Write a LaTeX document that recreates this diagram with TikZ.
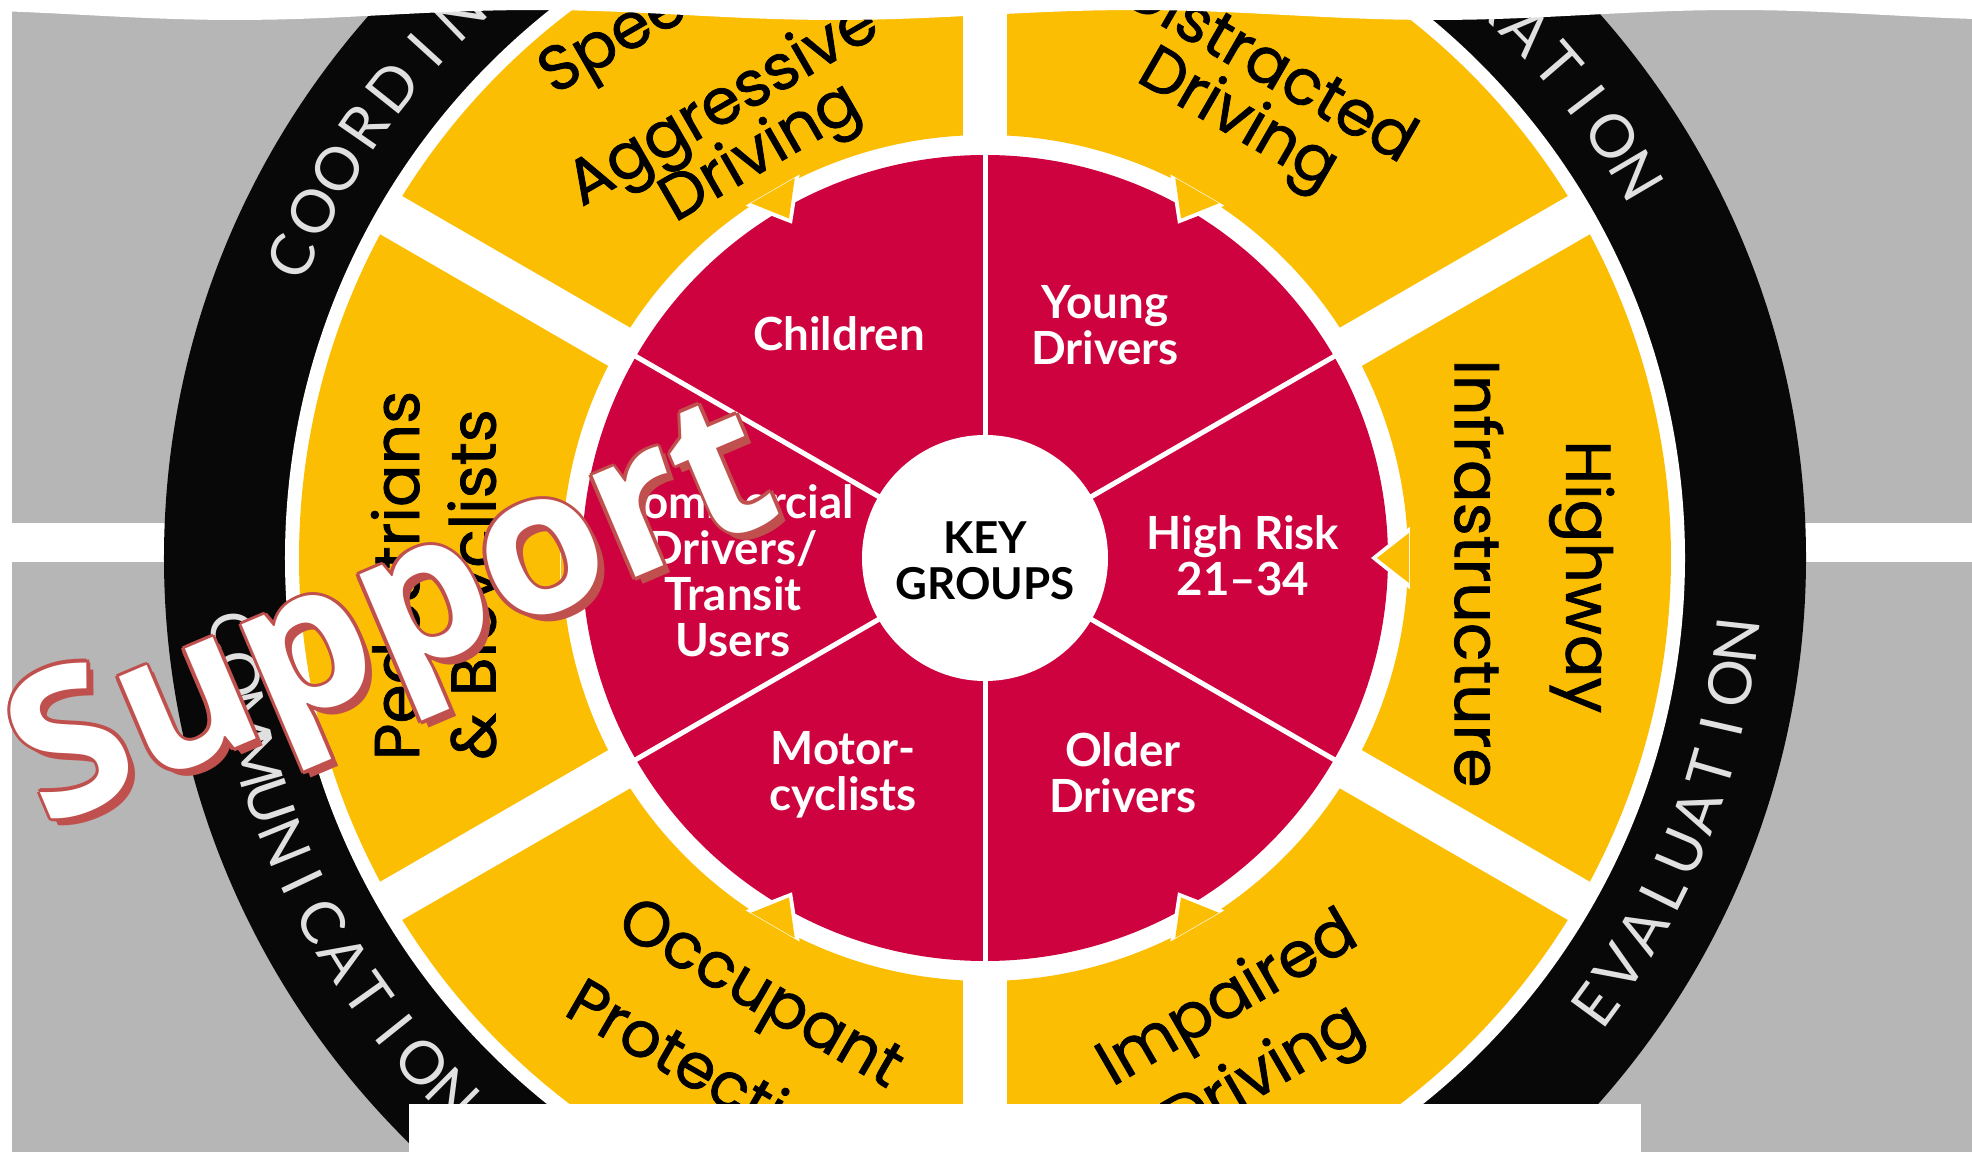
\documentclass[tikz,border=0pt]{standalone}
\usepackage{fontspec}
\setmainfont{Poppins}
\newfontfamily\segfont[FakeBold=1.2]{Poppins}
\newfontfamily\latofont{Lato}
\newfontfamily\opensans{Open Sans}
\definecolor{bggray}{RGB}{182,182,182}
\definecolor{ringblack}{RGB}{8,8,8}
\definecolor{segyellow}{RGB}{252,190,2}
\definecolor{keyred}{RGB}{205,2,62}
\definecolor{suprd}{RGB}{192,80,77}

\begin{document}
\begin{tikzpicture}
    \tikzstyle{ringtxt}=[text=white!88!black, font=\latofont\fontsize{17}{18}\selectfont, inner sep=0pt];
    \tikzstyle{seglbl}=[text=black, font=\segfont\fontsize{18}{20}\selectfont, inner sep=0pt];
    \tikzstyle{grplbl}=[text=white, align=center, font=\latofont\bfseries\fontsize{13}{13.1}\selectfont, inner sep=0pt];
    \tikzstyle{keylbl}=[text=black, align=center, font=\latofont\bfseries\fontsize{12.5}{13.1}\selectfont, inner sep=0pt];
    \tikzstyle{suptxt}=[font=\opensans\bfseries\fontsize{57.5}{64}\selectfont, rotate=23, inner sep=0pt];

    \useasboundingbox (-9.85,-5.94) rectangle (9.87,5.58);
    \clip (-9.85,-5.94) rectangle (9.87,5.58);
    \fill[white] (-9.85,-5.94) rectangle (9.87,5.58);
    \fill[bggray] (-9.73,-5.94) rectangle (9.87,5.58);
    \fill[white] (-9.85,-0.04) rectangle (9.87,0.35);

    \fill[ringblack] (0,0) circle (8.21);
    \fill[white] (0,0) circle (7.00);
    \foreach \a in {0,60,...,300}
        \fill[segyellow] (\a-30:4.23) arc (\a-30:\a+30:4.23) -- (\a+30:6.86) arc (\a+30:\a-30:6.86) -- cycle;
    \foreach \a in {30,90,...,330}
        \draw[white, line width=0.44cm] (\a:4.0) -- (\a:6.95);
    \fill[keyred] (0,0) circle (4.03);
    \foreach \a in {30,90,...,330}
        \draw[white, line width=0.05cm] (0,0) -- (\a:4.1);
    \fill[white] (0,0) circle (1.23);
    \foreach \a in {0,60,...,300} {
        \fill[white] (\a-4.2:4.26) -- (\a:3.86) -- (\a+4.2:4.26) -- cycle;
        \fill[segyellow] (\a-3.4:4.25) -- (\a:3.92) -- (\a+3.4:4.25) -- cycle;
    }

    \foreach \l [count=\i] in {C,O,O,R,D,I,N,A,T,I,O,N}
        \node[ringtxt, rotate={156.5-3.75*(\i-1)-90}] (coord\i) at ({156.5-3.75*(\i-1)}:7.56) {\l};
    \foreach \l [count=\i] in {C,O,L,L,A,B,O,R,A,T,I,O,N}
        \node[ringtxt, rotate={71.7-3.44*(\i-1)-90}] (collab\i) at ({71.7-3.44*(\i-1)}:7.56) {\l};
    \foreach \l [count=\i] in {C,O,M,M,U,N,I,C,A,T,I,O,N}
        \node[ringtxt, rotate={185.6+3.3*(\i-1)+90}] (comm\i) at ({185.6+3.3*(\i-1)}:7.56) {\l};
    \foreach \l [count=\i] in {E,V,A,L,U,A,T,I,O,N}
        \node[ringtxt, rotate={-36.2+3.33*(\i-1)+90}] (eval\i) at ({-36.2+3.33*(\i-1)}:7.56) {\l};

    \node[seglbl, rotate=30] (spd1) at (116.4:6.33) {Speeding \&};
    \node[seglbl, rotate=30] (spd2) at (120:5.21) {Aggressive};
    \node[seglbl, rotate=30] (spd3) at (119:4.61) {Driving};
    \node[seglbl, rotate=-30] (dst1) at (60:5.73) {Distracted};
    \node[seglbl, rotate=-30] (dst2) at (60:5.04) {Driving};
    \node[seglbl, rotate=-90] (hwy1) at (-1.8:5.97) {Highway};
    \node[seglbl, rotate=-90] (hwy2) at (-1.8:4.94) {Infrastructure};
    \node[seglbl, rotate=30] (imp1) at (-61.2:5.06) {Impaired};
    \node[seglbl, rotate=30] (imp2) at (-61.6:5.89) {Driving};
    \node[seglbl, rotate=-30] (occ1) at (-117.3:4.95) {Occupant};
    \node[seglbl, rotate=-30] (occ2) at (-117.8:5.83) {Protection};
    \node[seglbl, rotate=90] (ped1) at (181.7:5.90) {Pedestrians};
    \node[seglbl, rotate=90] (ped2) at (183:5.06) {\& Bicyclists};

    \node[grplbl] (kids) at (-1.46,2.24) {Children};
    \node[grplbl] (young) at (1.20,2.33) {Young\\Drivers};
    \node[grplbl] (risk) at (2.58,0.02) {High Risk\\21–34};
    \node[grplbl] (older) at (1.38,-2.15) {Older\\Drivers};
    \node[grplbl] (moto) at (-1.42,-2.17) {Motor-\\cyclists};
    \node[grplbl] (cmrc) at (-2.52,-0.13) {Commercial\\Drivers/\\Transit\\Users};
    \node[keylbl] (key) at (0,-0.03) {KEY\\GROUPS};

    \foreach \dx/\dy [count=\k] in {0.07/-0.07, 0.035/0, -0.035/0, 0/0.035, 0/-0.035, 0.025/0.025, -0.025/0.025, 0.025/-0.025, -0.025/-0.025}
        \node[suptxt, text=suprd] (supbg\k) at (-5.88+\dx,-0.68+\dy) {Support};
    \node[suptxt, text=white] (sup) at (-5.88,-0.68) {Support};

    \fill[white] (-9.85,5.6) -- (9.87,5.6) -- plot[domain=9.87:-9.85, samples=80] (\x,{5.43+0.05*sin(60*\x)}) -- cycle;
    \fill[white] (-5.76,-6.1) rectangle (6.56,-5.46);
\end{tikzpicture}
\end{document}
